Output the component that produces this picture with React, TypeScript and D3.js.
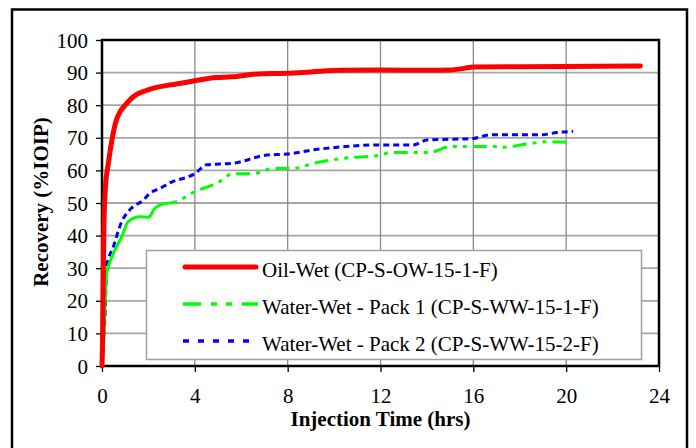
import React, { useEffect, useRef } from 'react'
import * as d3 from 'd3'

// Oil-Wet (CP-S-OW-15-1-F)
const oilTime = [0, 0.03, 0.06, 0.08, 0.15, 0.27, 0.42, 0.6, 0.78, 1.0, 1.35, 1.9, 2.5, 3.2, 4, 4.9, 5.6, 6.7, 8, 9, 10.3, 12, 14, 15, 15.6, 16, 18, 20, 23.2]
const oilRec = [0, 10, 30, 42, 55, 62, 69, 75, 78, 80, 82.6, 84.5, 85.7, 86.5, 87.5, 88.5, 88.7, 89.6, 89.8, 90.2, 90.7, 90.8, 90.7, 90.8, 91.3, 91.7, 91.8, 91.9, 92]

// Water-Wet - Pack 1 (CP-S-WW-15-1-F)
const ww1Time = [0, 0.06, 0.13, 0.2, 0.35, 0.56, 0.85, 1.13, 1.64, 2.0, 2.28, 2.64, 3.2, 4, 4.94, 5.66, 6.5, 7.4, 8.25, 9.1, 10.4, 12, 12.4, 14.1, 15, 16.9, 17.3, 18.3, 19.2, 20.2]
const ww1Rec = [0, 6, 19, 28.4, 32, 35.6, 39.7, 44.3, 45.8, 45.6, 48.4, 49.7, 50.4, 53.5, 56, 59, 59, 60.6, 60.6, 62.2, 63.7, 64.7, 65.5, 65.5, 67.3, 67.3, 67.1, 68.1, 68.8, 68.6]

// Water-Wet - Pack 2 (CP-S-WW-15-2-F)
const ww2Time = [0, 0.06, 0.13, 0.2, 0.49, 0.85, 1.2, 1.78, 2.07, 2.5, 2.93, 4, 4.5, 5.66, 7.1, 7.96, 9.1, 10.5, 11.7, 13.4, 14, 16, 16.7, 18.9, 19.6, 20.3]
const ww2Rec = [0, 8, 15, 30.5, 36.6, 44.3, 47.9, 50.9, 53, 54.5, 56.2, 59, 61.7, 62.2, 64.7, 65, 66.3, 67.3, 67.8, 67.8, 69.3, 69.8, 70.9, 70.9, 71.6, 72]

const xTicks = [0, 4, 8, 12, 16, 20, 24]
const yTicks = [0, 10, 20, 30, 40, 50, 60, 70, 80, 90, 100]

const seriesNames = ['Oil-Wet (CP-S-OW-15-1-F)', 'Water-Wet - Pack 1 (CP-S-WW-15-1-F)', 'Water-Wet - Pack 2 (CP-S-WW-15-2-F)']

const FONT = 'Liberation Serif'

export default function App() {
  const ref = useRef<SVGSVGElement>(null)

  useEffect(() => {
    const svg = d3.select(ref.current)
    svg.selectAll('*').remove()
    const marge = { left: 102, top: 40, right: 659, bottom: 366 }

    const x = d3.scaleLinear().domain([0, 24]).range([marge.left, marge.right])
    const y = d3.scaleLinear().domain([0, 100]).range([marge.bottom, marge.top])

    // outer frame
    svg.append('rect')
      .attr('x', 12).attr('y', 9.5).attr('width', 675).attr('height', 470)
      .attr('fill', 'none').attr('stroke', '#000').attr('stroke-width', 2.5)

    // grid
    svg.append('g').selectAll('line').data(yTicks.slice(1, -1)).enter().append('line')
      .attr('x1', marge.left).attr('x2', marge.right)
      .attr('y1', d => y(d)).attr('y2', d => y(d))
      .attr('stroke', '#a6a6a6').attr('stroke-width', 1.8)
    svg.append('g').selectAll('line').data(xTicks.slice(1, -1)).enter().append('line')
      .attr('y1', marge.top).attr('y2', marge.bottom)
      .attr('x1', d => x(d)).attr('x2', d => x(d))
      .attr('stroke', '#8a8a8a').attr('stroke-width', 1.3)

    // axes
    const xAxis = svg.append('g')
      .attr('transform', `translate(0,${marge.bottom})`)
      .call(d3.axisBottom(x).tickValues(xTicks).tickSize(6).tickSizeOuter(0))
    xAxis.attr('font-family', FONT).attr('font-size', 21)
    xAxis.select('.domain').remove()
    xAxis.selectAll('line').attr('stroke', '#000').attr('stroke-width', 1.3)
    xAxis.selectAll('text').attr('y', 37).attr('dy', 0).attr('fill', '#000')

    const yAxis = svg.append('g')
      .attr('transform', `translate(${marge.left},0)`)
      .call(d3.axisLeft(y).tickValues(yTicks).tickSize(6).tickSizeOuter(0))
    yAxis.attr('font-family', FONT).attr('font-size', 21)
    yAxis.select('.domain').remove()
    yAxis.selectAll('line').attr('stroke', '#000').attr('stroke-width', 1.3)
    yAxis.selectAll('text').attr('x', -14).attr('dy', '0.34em').attr('fill', '#000')

    // plot frame
    svg.append('rect')
      .attr('x', marge.left).attr('y', marge.top)
      .attr('width', marge.right - marge.left).attr('height', marge.bottom - marge.top)
      .attr('fill', 'none').attr('stroke', '#000').attr('stroke-width', 2.5)

    // legend box
    const lg = svg.append('g')
    lg.append('rect')
      .attr('x', 146.5).attr('y', 250.5).attr('width', 495).attr('height', 109)
      .attr('fill', '#fff').attr('stroke', '#a0a0a0').attr('stroke-width', 1.5)

    const styles = [
      { color: '#ff0000', width: 5, dash: null, legendDash: null, cap: 'round' },
      { color: '#00ff00', width: 3, dash: '14,6,4,6,4,6', legendDash: '18,10,6,9,6,10', cap: 'butt' },
      { color: '#0000ff', width: 3, dash: '6,4', legendDash: '6,9', cap: 'butt' },
    ]
    const series = [
      oilTime.map((t, i) => [t, oilRec[i]]),
      ww1Time.map((t, i) => [t, ww1Rec[i]]),
      ww2Time.map((t, i) => [t, ww2Rec[i]]),
    ]

    const line = d3.line<number[]>()
      .x(d => x(d[0]))
      .y(d => y(d[1]))
      .curve(d3.curveMonotoneX)

    // blue
    svg.append('path')
      .datum(series[2])
      .attr('d', line)
      .attr('fill', 'none').attr('stroke', styles[2].color).attr('stroke-width', 3)
      .attr('stroke-dasharray', styles[2].dash)

    // green: dense early readings look solid, dashed afterwards
    const cut = ww1Time.indexOf(2.64)
    svg.append('path')
      .datum(series[1].slice(0, cut + 1))
      .attr('d', line)
      .attr('fill', 'none').attr('stroke', styles[1].color).attr('stroke-width', 3)
      .attr('stroke-linejoin', 'round')
    svg.append('path')
      .datum(series[1].slice(cut))
      .attr('d', line)
      .attr('fill', 'none').attr('stroke', styles[1].color).attr('stroke-width', 3)
      .attr('stroke-dasharray', styles[1].dash)

    // red on top
    svg.append('path')
      .datum(series[0])
      .attr('d', line)
      .attr('fill', 'none').attr('stroke', styles[0].color).attr('stroke-width', 5)
      .attr('stroke-linecap', 'round').attr('stroke-linejoin', 'round')

    const rowY = [267, 304, 341]
    seriesNames.forEach((name, i) => {
      const s = styles[i]
      lg.append('line')
        .attr('x1', i === 0 ? 185 : 183).attr('x2', i === 0 ? 256 : 258)
        .attr('y1', rowY[i]).attr('y2', rowY[i])
        .attr('stroke', s.color).attr('stroke-width', i === 0 ? 5 : 3.5)
        .attr('stroke-linecap', s.cap)
        .attr('stroke-dasharray', s.legendDash)
      lg.append('text')
        .attr('x', 262).attr('y', rowY[i] + 10)
        .attr('font-family', FONT).attr('font-size', 21)
        .text(name)
    })

    // axis titles
    svg.append('text')
      .attr('x', (marge.left + marge.right) / 2).attr('y', 426)
      .attr('text-anchor', 'middle')
      .attr('font-family', FONT).attr('font-size', 21).attr('font-weight', 'bold')
      .text('Injection Time (hrs)')
    svg.append('text')
      .attr('transform', `translate(48,202) rotate(-90)`)
      .attr('text-anchor', 'middle')
      .attr('font-family', FONT).attr('font-size', 21).attr('font-weight', 'bold')
      .text('Recovery (%IOIP)')
  }, [])

  return (
    <div>
      <svg ref={ref} width='696' height='448' style={{ position: 'absolute', left: 0, top: 0, background: '#fff' }}>
      </svg>
    </div>
  )
}
